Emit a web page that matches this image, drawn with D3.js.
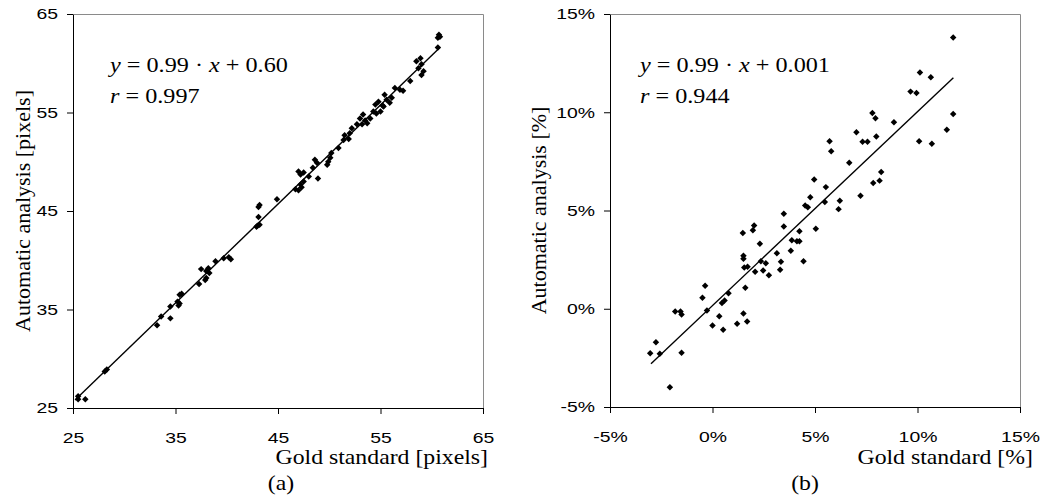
<!DOCTYPE html>
<html>
<head>
<meta charset="utf-8">
<script src="https://cdn.jsdelivr.net/npm/d3@7"></script>
<style>
  body { margin: 0; background: #fff; }
  svg { display: block; }
</style>
</head>
<body>
<div id="chart"></div>
<script>
// panel (a): diameters in pixels
const goldPx = [25.5, 26.2, 25.5, 28.1, 28.3, 33.2, 33.6, 34.5, 34.5, 35.3, 35.4, 35.4, 35.6, 35.2,
  37.3, 37.5, 38.0, 38.0, 38.2, 37.9, 38.3, 38.9, 39.7, 40.2, 40.4, 42.9, 43.2, 43.1, 43.1, 43.2, 43.0,
  44.9, 46.7, 47.0, 47.3, 47.2, 47.0, 47.5, 48.0, 47.5, 47.2, 48.6, 48.8, 48.9, 48.4, 49.8, 49.9, 50.1,
  50.2, 50.9, 51.4, 51.5, 51.9, 52.0, 52.2, 52.7, 53.0, 53.3, 53.2, 53.5, 53.7, 54.0, 54.3, 54.5, 54.6,
  54.8, 55.0, 55.2, 55.3, 55.4, 55.6, 55.9, 56.1, 56.4, 56.9, 57.2, 57.9, 58.5, 58.9, 59.0, 58.7, 59.0,
  59.2, 60.6, 60.8, 60.7, 60.6];
const autoPx = [25.9, 25.9, 26.2, 28.7, 28.9, 33.4, 34.3, 34.1, 35.3, 35.4, 35.6, 36.5, 36.6, 35.8,
  37.6, 39.1, 38.9, 38.2, 39.2, 38.0, 38.7, 39.9, 40.2, 40.3, 40.1, 43.4, 43.6, 44.4, 45.4, 45.6, 43.5,
  46.2, 47.2, 47.1, 47.4, 48.7, 49.0, 48.9, 48.5, 48.0, 47.7, 50.2, 49.9, 48.3, 49.4, 49.7, 50.0, 50.4,
  50.9, 51.4, 52.2, 52.7, 52.3, 52.9, 53.4, 53.8, 54.4, 54.8, 53.8, 54.2, 53.9, 54.4, 55.1, 55.8, 54.9,
  56.1, 55.1, 55.7, 55.6, 56.8, 56.3, 56.0, 56.5, 57.5, 57.3, 57.2, 58.2, 60.2, 60.5, 59.9, 59.5, 58.8,
  59.2, 62.6, 62.7, 62.9, 61.6];

// panel (b): values in percent
const goldPct = [-3.04, -2.76, -2.57, -2.08, -1.82, -1.56, -1.51, -1.51, -0.49, -0.36, -0.27, 0.0,
  0.33, 0.52, 0.46, 0.59, 0.78, 1.20, 1.51, 1.69, 1.60, 1.48, 1.51, 1.51, 1.55, 1.71, 1.97, 2.03, 2.08,
  2.31, 2.36, 2.60, 2.47, 2.75, 3.14, 3.34, 3.30, 3.48, 3.48, 3.82, 3.87, 4.12, 4.24, 4.24, 4.44, 4.52,
  4.65, 11.74, 10.12, 10.65, 9.66, 9.95, 11.74, 11.43, 10.08, 10.70, 8.85, 7.80, 7.95, 7.99, 7.02, 7.32,
  7.56, 5.71, 5.79, 6.67, 8.23, 8.15, 7.84, 7.22, 4.96, 5.53, 4.77, 5.48, 6.21, 6.15, 5.04];
const autoPct = [-2.26, -1.70, -2.29, -3.99, -0.14, -0.14, -0.29, -2.24, 0.56, 1.17, -0.09, -0.85,
  -0.38, -1.07, 0.29, 0.42, 0.79, -0.76, -0.24, -0.65, 1.07, 3.85, 2.70, 2.55, 2.10, 2.14, 3.99, 4.24,
  1.88, 3.31, 2.42, 2.32, 1.95, 1.70, 2.83, 2.39, 1.99, 4.84, 4.19, 2.95, 3.49, 3.44, 3.44, 3.94, 2.42,
  5.26, 5.17, 13.80, 12.02, 11.78, 11.05, 10.98, 9.91, 9.11, 8.53, 8.40, 9.49, 9.96, 9.70, 8.77, 8.98,
  8.50, 8.50, 8.53, 8.02, 7.43, 6.96, 6.52, 6.40, 5.75, 6.58, 6.19, 5.68, 5.43, 5.50, 5.07, 4.07];

const ticksPx = [25, 35, 45, 55, 65];
const ticksPct = [-5, 0, 5, 10, 15];

// trend line end points [gold, auto]
const fitPx = [[25.2, 25.8], [60.8, 61.6]];
const fitPct = [[-3.0, -2.8], [11.75, 11.76]];

const eqPx = {slope: "0.99", icept: "0.60", r: "0.997"};
const eqPct = {slope: "0.99", icept: "0.001", r: "0.944"};

const width = 1042, height = 503;
const serif = "'Liberation Serif', 'Times New Roman', serif";
const sans = "'Liberation Sans', Arial, sans-serif";

const svg = d3.select("#chart")
  .append("svg")
  .attr("width", width)
  .attr("height", height);

// the scan is a bit wider than it is tall, so text is widened a little
function widen(sel, k) {
  sel.each(function() {
    const w = this.getComputedTextLength();
    d3.select(this).attr("textLength", w * k).attr("lengthAdjust", "spacingAndGlyphs");
  });
}

function drawPanel(p) {
  const w = p.x1 - p.x0, h = p.y1 - p.y0;
  const g = svg.append("g").attr("transform", "translate(" + p.x0 + "," + p.y0 + ")");

  const x = d3.scaleLinear().domain(d3.extent(p.ticks)).range([0, w]);
  const y = d3.scaleLinear().domain(d3.extent(p.ticks)).range([h, 0]);

  // grey frame (top and right)
  g.append("path")
    .attr("d", "M0.5,0.5H" + (w + 0.5) + "V" + (h + 0.5))
    .attr("fill", "none")
    .attr("stroke", "#8a8a8a");

  const xAxis = g.append("g")
    .attr("transform", "translate(0," + h + ")")
    .call(d3.axisBottom(x).tickValues(p.ticks).tickFormat(p.fmt).tickSize(6).tickSizeOuter(0).tickPadding(18));
  const yAxis = g.append("g")
    .call(d3.axisLeft(y).tickValues(p.ticks).tickFormat(p.fmt).tickSize(6).tickSizeOuter(0).tickPadding(9));

  [xAxis, yAxis].forEach(a => {
    a.selectAll("path, line").attr("stroke", "#000");
    a.selectAll("text")
      .attr("fill", "#000")
      .style("font-family", sans)
      .style("font-size", "15.5px");
    widen(a.selectAll("text"), 1.25);
  });

  // trend line
  g.append("line")
    .attr("x1", x(p.fit[0][0])).attr("y1", y(p.fit[0][1]))
    .attr("x2", x(p.fit[1][0])).attr("y2", y(p.fit[1][1]))
    .attr("stroke", "#000")
    .attr("stroke-width", 1.4);

  // points
  const diamond = d3.symbol().type(d3.symbolSquare).size(21);
  g.selectAll(".pt")
    .data(p.gold.map((d, i) => [d, p.auto[i]]))
    .enter().append("path")
    .attr("class", "pt")
    .attr("d", diamond)
    .attr("transform", d => "translate(" + x(d[0]) + "," + y(d[1]) + ") rotate(45)")
    .attr("fill", "#000");

  // equation
  const eq = g.append("text")
    .attr("x", p.eqX)
    .attr("y", 58)
    .style("font-family", serif)
    .style("font-size", "22px");
  eq.append("tspan").style("font-style", "italic").text("y");
  eq.append("tspan").text(" = " + p.eq.slope + " \u00b7 ");
  eq.append("tspan").style("font-style", "italic").text("x");
  eq.append("tspan").text(" + " + p.eq.icept);
  widen(eq, 1.1);

  const rt = g.append("text")
    .attr("x", p.eqX)
    .attr("y", 89)
    .style("font-family", serif)
    .style("font-size", "22px");
  rt.append("tspan").style("font-style", "italic").text("r");
  rt.append("tspan").text(" = " + p.eq.r);
  widen(rt, 1.1);

  // axis titles
  const xt = svg.append("text")
    .attr("x", p.xTitleEnd)
    .attr("y", 464)
    .attr("text-anchor", "end")
    .style("font-family", serif)
    .style("font-size", "22px")
    .text(p.xTitle);
  widen(xt, 1.08);

  svg.append("text")
    .attr("transform", "translate(" + p.yTitleX + "," + (p.y0 + h / 2) + ") rotate(-90)")
    .attr("text-anchor", "middle")
    .style("font-family", serif)
    .style("font-size", "22px")
    .text(p.yTitle);

  const lab = svg.append("text")
    .attr("x", p.labX)
    .attr("y", 490)
    .attr("text-anchor", "middle")
    .style("font-family", serif)
    .style("font-size", "22px")
    .text(p.label);
  widen(lab, 1.08);
}

drawPanel({
  x0: 73, x1: 483, y0: 14, y1: 408,
  ticks: ticksPx, fmt: d => d,
  gold: goldPx, auto: autoPx, fit: fitPx, eq: eqPx, eqX: 37,
  xTitle: "Gold standard [pixels]", xTitleEnd: 488,
  yTitle: "Automatic analysis [pixels]", yTitleX: 30,
  label: "(a)", labX: 281
});

drawPanel({
  x0: 610, x1: 1020, y0: 14, y1: 407,
  ticks: ticksPct, fmt: d => d + "%",
  gold: goldPct, auto: autoPct, fit: fitPct, eq: eqPct, eqX: 30,
  xTitle: "Gold standard [%]", xTitleEnd: 1033,
  yTitle: "Automatic analysis [%]", yTitleX: 546,
  label: "(b)", labX: 805
});
</script>
</body>
</html>
